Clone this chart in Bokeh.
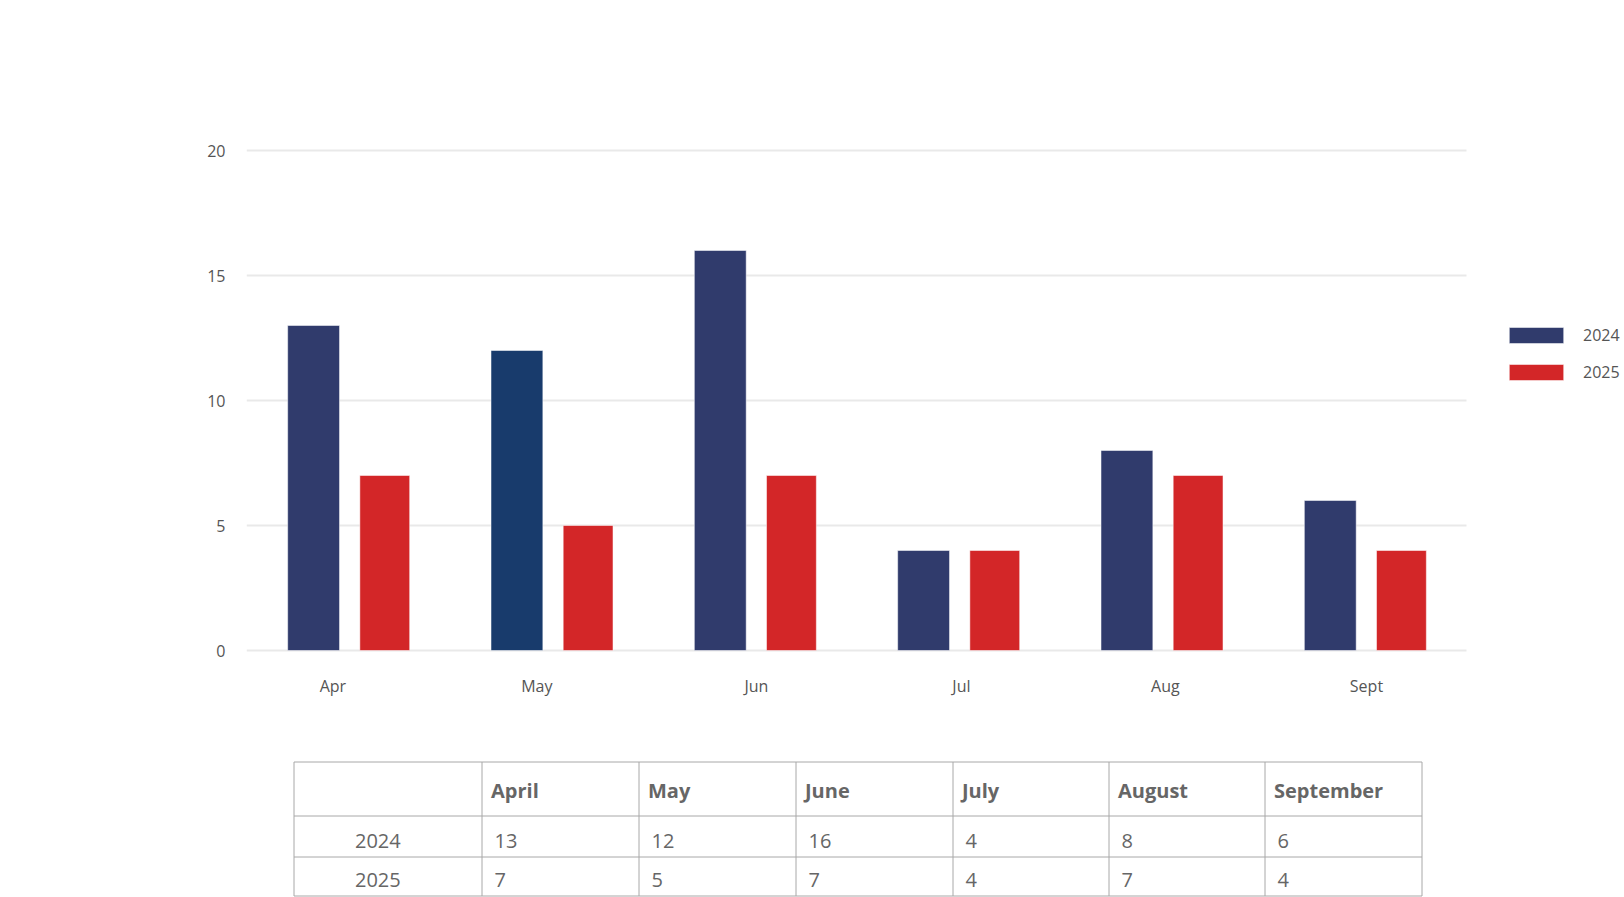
from bokeh.plotting import figure
from bokeh.models import ColumnDataSource, Range1d, FixedTicker, Legend, LegendItem
from bokeh.layouts import column
from bokeh.core.properties import value
from bokeh.embed import file_html
from bokeh.resources import INLINE

# ---- data ----
months = ["Apr", "May", "Jun", "Jul", "Aug", "Sept"]
month_names = ["April", "May", "June", "July", "August", "September"]
series_names = ["2024", "2025"]
values_2024 = [13, 12, 16, 4, 8, 6]
values_2025 = [7, 5, 7, 4, 7, 4]
colors_2024 = ["#303b6c", "#183b6c", "#303b6c", "#303b6c", "#303b6c", "#303b6c"]
color_2025 = "#d32628"
y_ticks = [0, 5, 10, 15, 20]

FONT = "Open Sans"
TEXT_COLOR = "#555555"

# ---- layout constants (pixels / category units) ----
W = 1624
LEFT = 246
CAT_PX = 1220 / len(months)          # pixel width of one category slot
FRAME_W = W - LEFT
X_END = FRAME_W / CAT_PX              # frame extends to the right to host the legend
LABEL_NUDGE = [-0.075, -0.072, 0.008, 0.016, 0.019, 0.008]   # tick-label placement tweak

# ---- chart ----
idx = list(range(len(months)))
src = ColumnDataSource(dict(
    x24=[i + 0.33 for i in idx], x25=[i + 0.68 for i in idx],
    v2024=values_2024, v2025=values_2025, c2024=colors_2024))

p = figure(x_range=Range1d(0, X_END), y_range=Range1d(-0.2, 20.2),
           width=W, height=740, output_backend="svg", toolbar_location=None,
           min_border_left=LEFT, min_border_right=0, min_border_top=145, min_border_bottom=85)
p.outline_line_color = None
p.background_fill_color = "white"
p.xgrid.visible = False
p.ygrid.visible = False

# horizontal grid lines spanning the category area only
p.segment(x0=[0] * len(y_ticks), x1=[len(months)] * len(y_ticks), y0=y_ticks, y1=y_ticks,
          line_color="#e9e9e9", line_width=2)

r1 = p.vbar(x="x24", top="v2024", width=0.255, source=src,
            fill_color="c2024", line_color="#ffffff", line_alpha=0.5, line_width=1)
r2 = p.vbar(x="x25", top="v2025", width=0.245, source=src,
            fill_color=color_2025, line_color="#ffffff", line_alpha=0.5, line_width=1)

tick_pos = [i + 0.5 + d for i, d in zip(idx, LABEL_NUDGE)]
p.xaxis.ticker = FixedTicker(ticks=tick_pos)
p.xaxis.major_label_overrides = {tp: m for tp, m in zip(tick_pos, months)}
p.yaxis.ticker = FixedTicker(ticks=y_ticks)
for ax in (p.xaxis[0], p.yaxis[0]):
    ax.axis_line_color = None
    ax.major_tick_line_color = None
    ax.minor_tick_line_color = None
    ax.major_tick_out = 0
    ax.major_tick_in = 0
    ax.minor_tick_out = 0
    ax.major_label_text_font = FONT
    ax.major_label_text_font_size = "16px"
    ax.major_label_text_color = TEXT_COLOR
p.xaxis.major_label_standoff = 19
p.yaxis.major_label_standoff = 21

legend = Legend(items=[LegendItem(label=series_names[0], renderers=[r1], index=0),
                       LegendItem(label=series_names[1], renderers=[r2])],
                location=(1256, 272), orientation="vertical",
                glyph_width=68, glyph_height=20, label_height=20, spacing=15,
                label_standoff=13, padding=0, margin=0,
                border_line_color=None, background_fill_alpha=0,
                label_text_font=FONT, label_text_font_size="16px", label_text_color=TEXT_COLOR)
p.add_layout(legend, "center")

# ---- table ----
TH = 157
t = figure(width=W, height=TH, x_range=Range1d(LEFT, W), y_range=Range1d(TH, 0),
           output_backend="svg", toolbar_location=None, x_axis_type=None, y_axis_type=None,
           min_border_left=LEFT, min_border_right=0, min_border_top=0, min_border_bottom=0)
t.outline_line_color = None
t.xgrid.visible = False
t.ygrid.visible = False

col_edges = [293.5, 481.5, 638.5, 795.5, 952.5, 1108.5, 1264.5, 1421.5]
row_edges = [21.5, 75.5, 116.5, 155.5]

hx0 = [col_edges[0]] * len(row_edges)
hx1 = [col_edges[-1]] * len(row_edges)
t.segment(x0=hx0, y0=row_edges, x1=hx1, y1=row_edges, line_color="#a8a8a8", line_width=1)
t.segment(x0=col_edges, y0=[row_edges[0]] * len(col_edges), x1=col_edges,
          y1=[row_edges[-1]] * len(col_edges), line_color="#a8a8a8", line_width=1)

header_y = (row_edges[0] + row_edges[1]) / 2 + 1
row_y = [(row_edges[1] + row_edges[2]) / 2 + 4.5, (row_edges[2] + row_edges[3]) / 2 + 3]

t.text(x=[e + 9 for e in col_edges[1:]], y=[header_y] * len(month_names), text=month_names,
       text_font=value(FONT), text_font_size="20px", text_font_style="bold",
       text_color="#666666", text_baseline="middle", text_align="left")

t.text(x=[col_edges[0] + 61] * 2, y=row_y, text=series_names,
       text_font=value(FONT), text_font_size="20px", text_color="#666666",
       text_baseline="middle", text_align="left")

for vals, yy in ((values_2024, row_y[0]), (values_2025, row_y[1])):
    t.text(x=[e + 12.5 for e in col_edges[1:]], y=[yy] * len(vals), text=[str(v) for v in vals],
           text_font=value(FONT), text_font_size="20px", text_color="#666666",
           text_baseline="middle", text_align="left")

layout = column(p, t, spacing=0)
open("out.html", "w").write(file_html(layout, INLINE))
